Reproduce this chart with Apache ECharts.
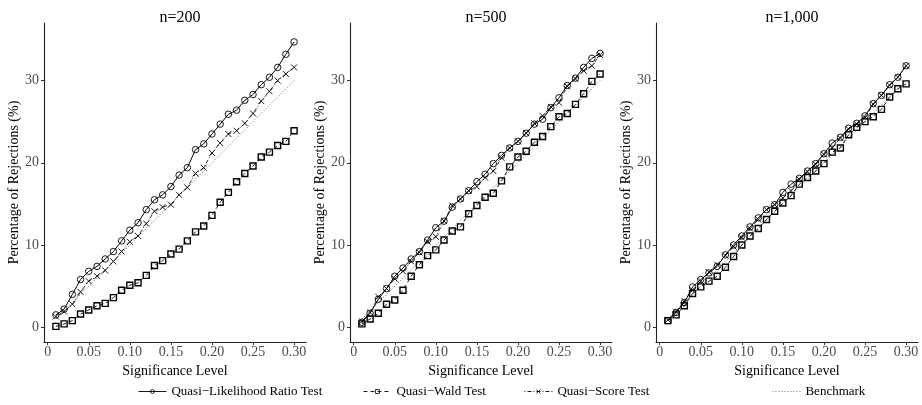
<!DOCTYPE html>
<html>
<head>
<meta charset="utf-8">
<script src="https://cdn.jsdelivr.net/npm/echarts@6/dist/echarts.min.js"></script>
<style>html,body{margin:0;padding:0;background:#fff;}#c{width:922px;height:405px;}</style>
</head>
<body>
<div id="c"></div>
<script>
const alpha = [0.01,0.02,0.03,0.04,0.05,0.06,0.07,0.08,0.09,0.10,0.11,0.12,0.13,0.14,0.15,0.16,0.17,0.18,0.19,0.20,0.21,0.22,0.23,0.24,0.25,0.26,0.27,0.28,0.29,0.30];
const benchmark = [1,2,3,4,5,6,7,8,9,10,11,12,13,14,15,16,17,18,19,20,21,22,23,24,25,26,27,28,29,30];
const panelTitles = ['n=200','n=500','n=1,000'];
const xTicks = [0,0.05,0.10,0.15,0.20,0.25,0.30];
const yTicks = [0,10,20,30];

const lrt200 = [1.5,2.2,4.0,5.8,6.8,7.4,8.3,9.2,10.5,11.8,12.7,14.3,15.5,16.1,17.1,18.5,19.4,21.6,22.3,23.5,24.7,25.9,26.4,27.6,28.3,29.5,30.4,31.6,33.2,34.7];
const wald200 = [0.1,0.4,0.8,1.6,2.1,2.6,2.9,3.6,4.5,5.1,5.4,6.3,7.5,8.1,8.9,9.5,10.5,11.6,12.3,13.6,15.2,16.4,17.7,18.7,19.6,20.7,21.3,22.1,22.6,23.9];
const score200 = [1.3,1.9,2.8,4.3,5.6,6.2,6.9,8.0,9.2,10.4,11.1,12.6,14.1,14.6,14.9,16.1,17.0,18.7,19.4,21.2,22.4,23.5,23.9,24.8,26.0,27.5,28.7,30.0,30.8,31.6];

const lrt500 = [0.6,1.7,3.4,4.7,6.2,7.2,8.3,9.2,10.6,12.1,12.9,14.6,15.6,16.6,17.7,18.6,19.9,20.9,21.8,22.6,23.6,24.7,25.3,26.7,27.9,29.4,30.3,31.6,32.7,33.3];
const wald500 = [0.4,1.0,1.7,2.8,3.3,4.5,6.2,7.6,8.7,9.4,10.6,11.7,12.2,13.8,14.8,15.8,16.3,17.8,19.5,20.7,21.4,22.5,23.2,24.4,25.6,26.0,27.1,28.4,29.9,30.8];
const score500 = [0.7,1.8,3.7,4.7,5.9,6.8,8.0,9.1,10.4,11.0,12.9,14.8,15.6,16.6,17.1,18.2,19.0,20.6,21.8,22.6,23.6,24.8,25.7,26.8,27.3,29.3,30.2,31.2,31.8,33.1];

const lrt1000 = [0.8,1.8,3.0,4.9,5.8,6.6,7.4,8.8,10.0,11.1,12.2,13.3,14.3,14.9,16.4,17.4,18.1,19.0,19.9,21.1,22.4,23.1,24.2,24.8,25.7,27.2,28.2,29.5,30.4,31.8];
const wald1000 = [0.8,1.5,2.6,4.1,4.9,5.6,6.2,7.3,8.6,10.0,11.1,12.0,13.1,14.1,15.1,16.0,17.4,18.2,19.0,19.9,21.3,21.8,23.4,24.3,25.0,25.6,26.5,28.0,29.0,29.6];
const score1000 = [0.9,1.9,3.2,4.5,5.6,6.7,7.6,8.7,9.8,10.9,12.0,13.1,14.3,14.9,15.7,16.6,18.0,18.9,19.8,21.0,21.8,23.0,24.1,24.7,25.5,27.1,28.2,29.4,30.4,31.8];

const panels = [
  {lrt: lrt200, wald: wald200, score: score200},
  {lrt: lrt500, wald: wald500, score: score500},
  {lrt: lrt1000, wald: wald1000, score: score1000}
];
const names = ['Quasi\u2212Likelihood Ratio Test','Quasi\u2212Wald Test','Quasi\u2212Score Test','Benchmark'];

const FONT = 'Liberation Serif';
const gridLefts = [44, 350, 656];
const gridW = 262;
const pair = arr => alpha.map((a,i)=>[a, arr[i]]);

const grids = [], xAxes = [], yAxes = [], series = [], titles = [];
gridLefts.forEach((l, k) => {
  grids.push({left: l, top: 23, width: gridW, height: 319});
  titles.push({text: panelTitles[k], left: l + gridW/2, top: 5, textAlign: 'center',
    textStyle: {fontFamily: FONT, fontSize: 16, fontWeight: 'normal', color: '#000'}});
  xAxes.push({type: 'value', gridIndex: k, min: -0.0045, max: 0.3145,
    name: 'Significance Level', nameLocation: 'middle', nameGap: 14,
    nameTextStyle: {fontFamily: FONT, fontSize: 14, color: '#000'},
    axisLine: {show: true, onZero: false, lineStyle: {color: '#222', width: 1.1}},
    axisTick: {show: true, length: 3, customValues: xTicks, lineStyle: {color: '#333'}},
    axisLabel: {customValues: xTicks, margin: 3, fontFamily: FONT, fontSize: 14, color: '#4d4d4d',
      formatter: v => v === 0 ? '0' : v.toFixed(2)},
    splitLine: {show: false}});
  yAxes.push({type: 'value', gridIndex: k, min: -1.8, max: 37,
    name: 'Percentage of Rejections (%)', nameLocation: 'middle', nameGap: 22,
    nameTextStyle: {fontFamily: FONT, fontSize: 14, color: '#000'},
    axisLine: {show: true, onZero: false, lineStyle: {color: '#222', width: 1.1}},
    axisTick: {show: true, length: 3, customValues: yTicks, lineStyle: {color: '#333'}},
    axisLabel: {customValues: yTicks, margin: 5, fontFamily: FONT, fontSize: 14, color: '#4d4d4d'},
    splitLine: {show: false}});
  const p = panels[k];
  series.push({name: names[3], type: 'line', xAxisIndex: k, yAxisIndex: k, data: pair(benchmark),
    symbol: 'none', lineStyle: {color: '#666', width: 1, type: [1, 2]}, itemStyle: {color: '#666'}, z: 1});
  series.push({name: names[1], type: 'line', xAxisIndex: k, yAxisIndex: k, data: pair(p.wald),
    symbol: 'rect', symbolSize: 6, showAllSymbol: true,
    lineStyle: {color: '#000', width: 0.9, type: [4, 3]},
    itemStyle: {color: 'rgba(255,255,255,0)', borderColor: '#000', borderWidth: 1.4}, z: 2});
  series.push({name: names[2], type: 'line', xAxisIndex: k, yAxisIndex: k, data: pair(p.score),
    symbol: 'path://M0,0L10,10M10,0L0,10', symbolSize: 6, showAllSymbol: true,
    lineStyle: {color: '#000', width: 0.8, type: [1, 2, 4, 2]},
    itemStyle: {color: 'rgba(255,255,255,0)', borderColor: '#000', borderWidth: 0.9}, z: 3});
  series.push({name: names[0], type: 'line', xAxisIndex: k, yAxisIndex: k, data: pair(p.lrt),
    symbol: 'circle', symbolSize: 6.5, showAllSymbol: true,
    lineStyle: {color: '#000', width: 1, type: 'solid'},
    itemStyle: {color: 'rgba(255,255,255,0)', borderColor: '#000', borderWidth: 0.9}, z: 4});
});

const legendLefts = [138, 363, 524, 772];
const legends = names.map((n, i) => ({
  data: [n], left: legendLefts[i], top: 385, padding: 0, itemWidth: 28, itemHeight: 5, itemGap: 0,
  textStyle: {fontFamily: FONT, fontSize: 13, color: '#000'},
  lineStyle: {width: 0.9},
  itemStyle: i === 3 ? {opacity: 0} : {borderWidth: 0.8}
}));

const chart = echarts.init(document.getElementById('c'), null, {renderer: 'canvas'});
chart.setOption({
  animation: false,
  backgroundColor: '#fff',
  title: titles,
  grid: grids,
  xAxis: xAxes,
  yAxis: yAxes,
  legend: legends,
  series: series
});
</script>
</body>
</html>
